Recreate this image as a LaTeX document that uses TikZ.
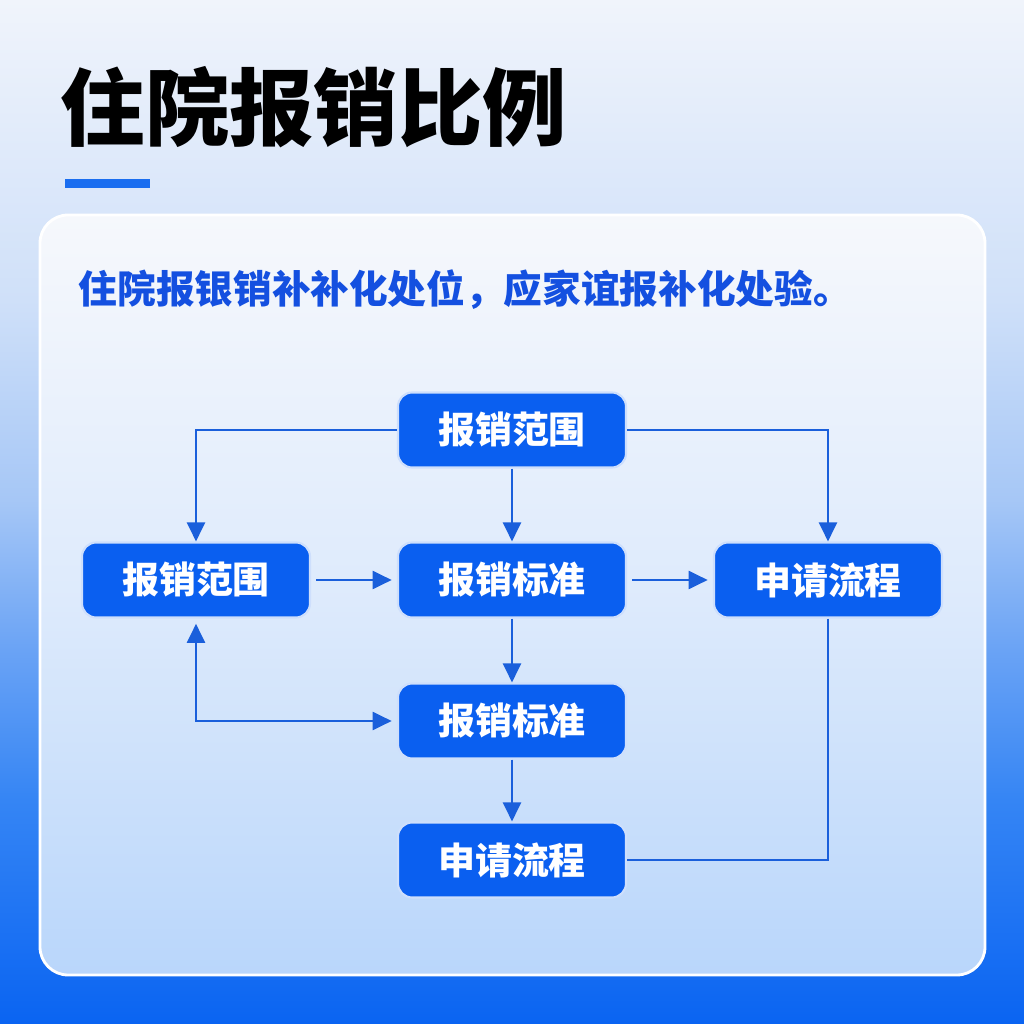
\documentclass[tikz,border=0pt]{standalone}
\usepackage{fontspec}
\setmainfont{Noto Sans CJK SC}
\usepackage{xcolor}
\usepackage{tikz}
\usetikzlibrary{arrows.meta, positioning}
\definecolor{boxblue}{HTML}{0A5FF0}
\definecolor{linkblue}{HTML}{1A5FDB}
\definecolor{leadblue}{HTML}{1450E0}
\definecolor{barblue}{HTML}{1A6EF0}
\definecolor{panelTop}{HTML}{F6F8FC}
\definecolor{panelBot}{HTML}{B9D6FB}
\pgfdeclareverticalshading{bgshade}{100bp}{%
  color(0bp)=(rgb,255:red,10;green,100;blue,242);
  color(25bp)=(rgb,255:red,10;green,100;blue,242);
  color(35.94bp)=(rgb,255:red,53;green,133;blue,244);
  color(43.26bp)=(rgb,255:red,106;green,163;blue,245);
  color(50.59bp)=(rgb,255:red,166;green,199;blue,246);
  color(60.35bp)=(rgb,255:red,207;green,224;blue,249);
  color(75bp)=(rgb,255:red,240;green,244;blue,251);
  color(100bp)=(rgb,255:red,240;green,244;blue,251)}
\tikzset{
  stepbox/.style={rectangle, rounded corners=4pt, fill=boxblue, draw=white!80!boxblue, line width=0.6pt,
    text=white, font=\bfseries\fontsize{10.5pt}{12pt}\selectfont,
    minimum width=2.28cm, minimum height=0.75cm, inner sep=0pt},
  flowarr/.style={draw=linkblue, line width=0.6pt, -{Triangle[length=1.9mm, width=1.8mm]}},
  twoarr/.style={draw=linkblue, line width=0.6pt, {Triangle[length=1.9mm, width=1.8mm]}-{Triangle[length=1.9mm, width=1.8mm]}},
  flowline/.style={draw=linkblue, line width=0.6pt},
}

\begin{document}
\begin{tikzpicture}
\useasboundingbox (0,0) rectangle (10.24,10.24);
\shade[shading=bgshade] (0,0) rectangle (10.24,10.24);
% panel
\shade[top color=panelTop, bottom color=panelBot, middle color=panelTop!60!panelBot, rounded corners=8pt]
  (0.40,0.49) rectangle (9.85,8.09);
\draw[white, line width=0.8pt, rounded corners=8pt] (0.40,0.49) rectangle (9.85,8.09);
% title
\node[anchor=west, inner sep=0pt, font=\bfseries\fontsize{24pt}{28pt}\selectfont] (title) at (0.60,9.17) {住院报销比例};
\fill[barblue] (0.65,8.36) rectangle (1.50,8.45);
\node[anchor=west, inner sep=0pt, text=leadblue, font=\bfseries\fontsize{11pt}{13pt}\selectfont] (lead) at (0.78,7.34)
  {住院报银销补补化处位，应家谊报补化处验。};
% boxes
\node[stepbox] (rA) at (5.12,5.94) {报销范围};
\node[stepbox] (rB) at (1.96,4.44) {报销范围};
\node[stepbox] (sC) at (5.12,4.44) {报销标准};
\node[stepbox] (pD) at (8.28,4.44) {申请流程};
\node[stepbox] (sE) at (5.12,3.03) {报销标准};
\node[stepbox] (pF) at (5.12,1.64) {申请流程};
% links
\draw[flowarr] (rA.west) -| (rB.north);
\draw[flowarr] (rA.east) -| (pD.north);
\draw[flowarr] (rA) -- (sC);
\draw[flowarr, shorten <=1.5pt, shorten >=1.5pt] (rB) -- (sC);
\draw[flowarr, shorten <=1.5pt, shorten >=1.5pt] (sC) -- (pD);
\draw[flowarr] (sC) -- (sE);
\draw[twoarr, shorten <=1.5pt, shorten >=1.5pt] (rB.south) |- (sE.west);
\draw[flowarr] (sE) -- (pF);
\draw[flowline] (pD.south) |- (pF.east);
\end{tikzpicture}
\end{document}
